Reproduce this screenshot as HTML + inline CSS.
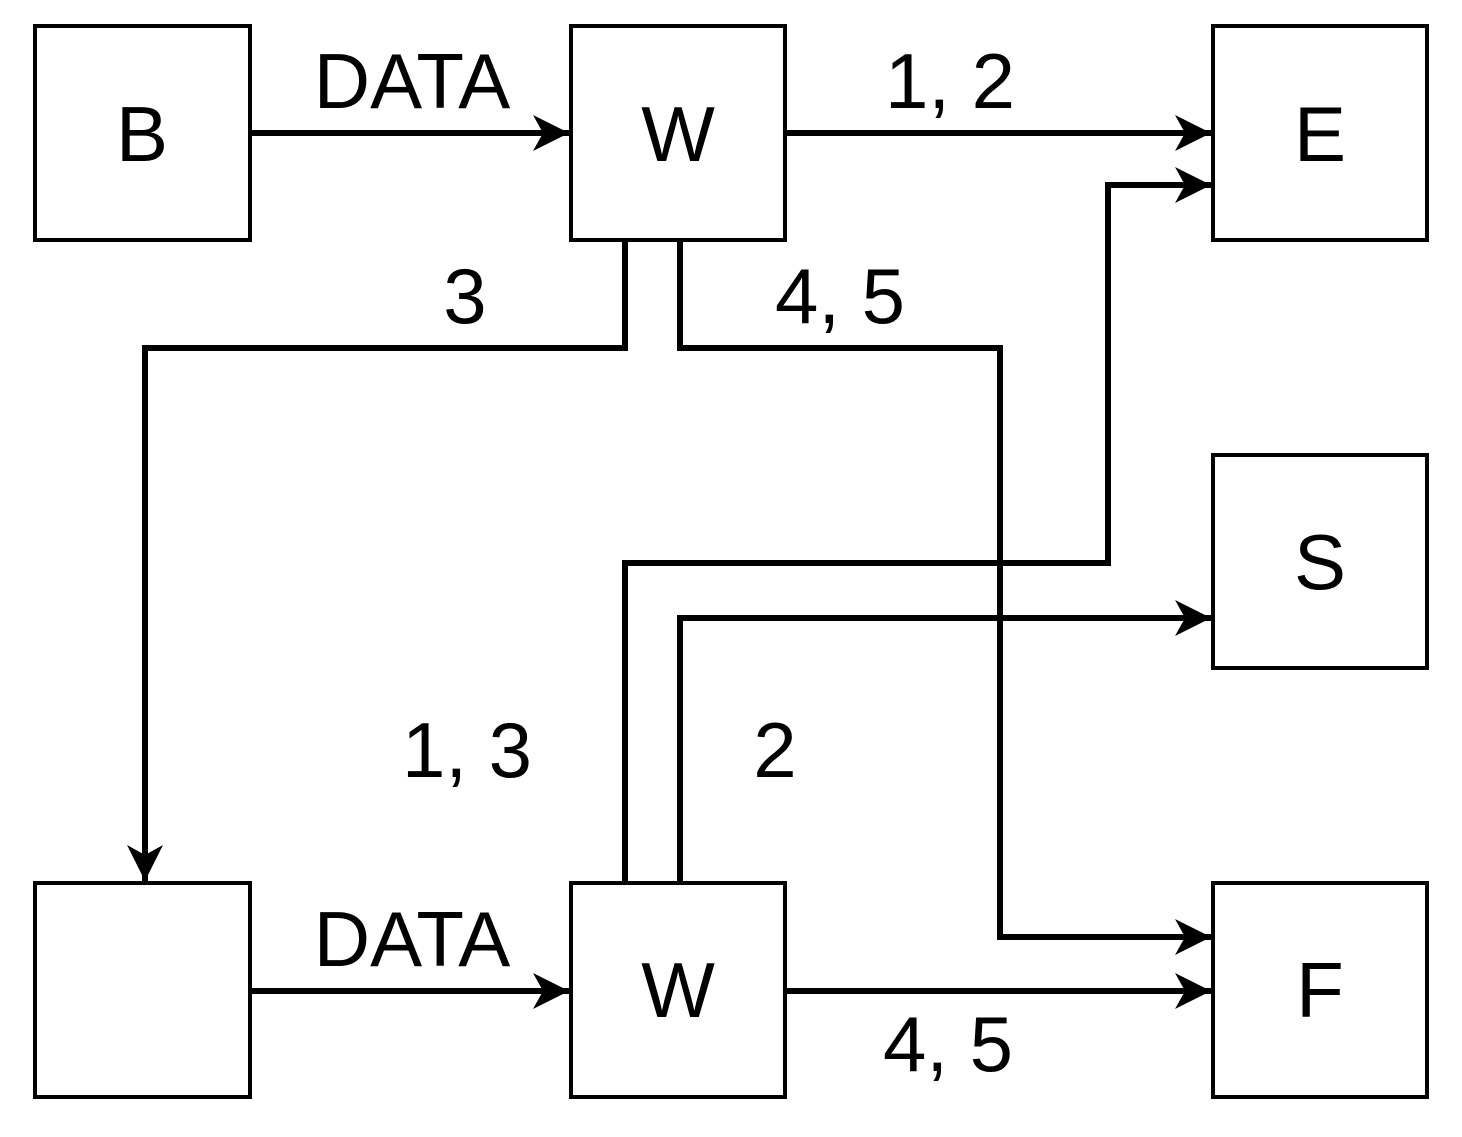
<!DOCTYPE html>
<html><head><meta charset="utf-8"><style>html,body{margin:0;padding:0;background:#fff}</style></head>
<body>
<svg width="1462" height="1132" viewBox="0 0 1462 1132" xmlns="http://www.w3.org/2000/svg">
<defs>
<marker id="a" markerUnits="userSpaceOnUse" markerWidth="40" markerHeight="40" refX="36" refY="18" orient="auto">
<path d="M0,0 L36,18 L0,36 L10,18 Z" fill="#000"/>
</marker>
</defs>
<g fill="#fff" stroke="#000" stroke-width="4">
<rect x="35" y="26" width="215" height="214"/>
<rect x="571" y="26" width="214" height="214"/>
<rect x="1213" y="26" width="214" height="214"/>
<rect x="1213" y="455" width="214" height="213"/>
<rect x="35" y="883" width="215" height="214"/>
<rect x="571" y="883" width="214" height="214"/>
<rect x="1213" y="883" width="214" height="214"/>
</g>
<g fill="none" stroke="#000" stroke-width="6">
<path d="M250,133 H569" marker-end="url(#a)"/>
<path d="M785,133 H1211" marker-end="url(#a)"/>
<path d="M625,240 V348 H145 V881" marker-end="url(#a)"/>
<path d="M680,240 V348 H1000 V937 H1211" marker-end="url(#a)"/>
<path d="M625,883 V563 H1108 V185 H1211" marker-end="url(#a)"/>
<path d="M680,883 V618 H1211" marker-end="url(#a)"/>
<path d="M250,991 H569" marker-end="url(#a)"/>
<path d="M785,991 H1211" marker-end="url(#a)"/>
</g>
<g font-family="Liberation Sans, sans-serif" font-size="78" text-anchor="middle" fill="#000">
<text x="142" y="161">B</text>
<text x="678" y="161">W</text>
<text x="1320" y="161">E</text>
<text x="1320" y="589">S</text>
<text x="678" y="1017">W</text>
<text x="1320" y="1017">F</text>
<text x="412" y="108">DATA</text>
<text x="950" y="108">1, 2</text>
<text x="465" y="323">3</text>
<text x="840" y="323">4, 5</text>
<text x="467" y="777">1, 3</text>
<text x="775" y="777">2</text>
<text x="412" y="966">DATA</text>
<text x="948" y="1071">4, 5</text>
</g>
</svg>
</body></html>
